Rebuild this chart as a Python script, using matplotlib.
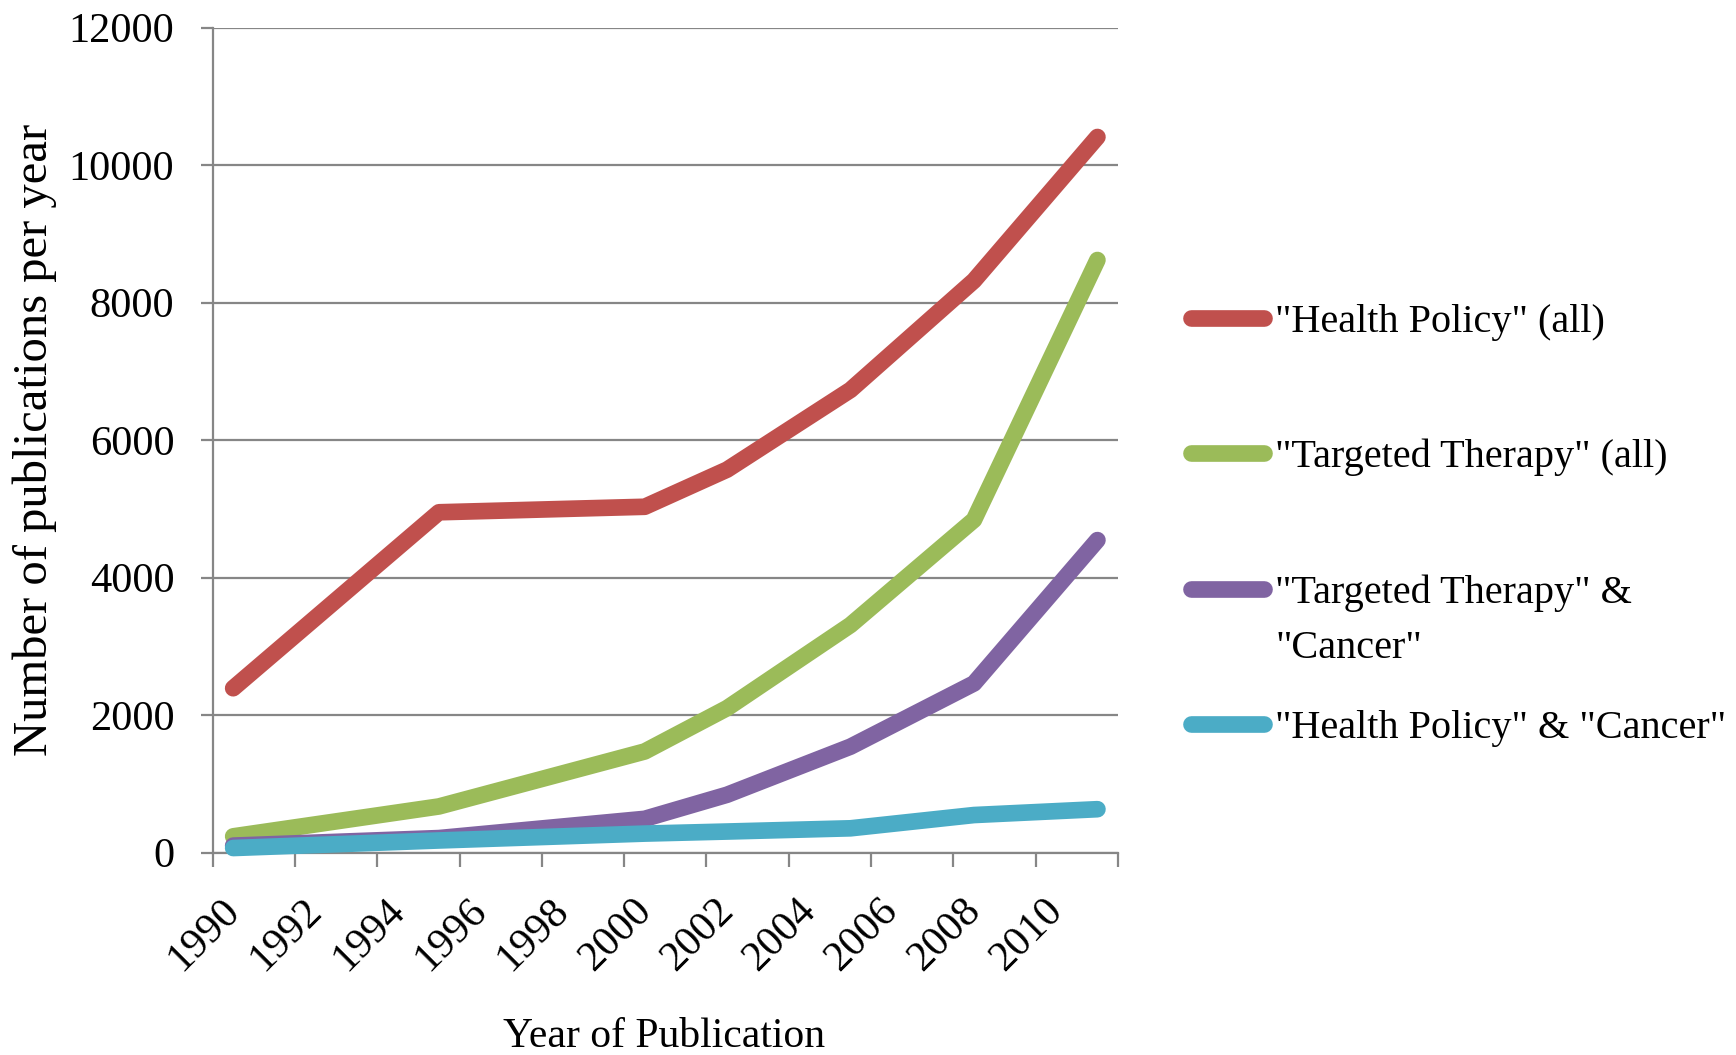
import matplotlib
matplotlib.use("Agg")
import matplotlib.pyplot as plt
import matplotlib.transforms as mtransforms
from matplotlib.lines import Line2D

# data
years = [1990, 1995, 2000, 2002, 2005, 2008, 2011]
health_policy_all = [2390, 4950, 5030, 5570, 6730, 8320, 10410]
targeted_therapy_all = [235, 670, 1470, 2100, 3310, 4840, 8620]
targeted_therapy_cancer = [100, 210, 490, 840, 1540, 2460, 4545]
health_policy_cancer = [65, 175, 275, 305, 352, 545, 630]

series_labels = ['"Health Policy" (all)', '"Targeted Therapy" (all)',
                 '"Targeted Therapy" &\n"Cancer"', '"Health Policy" & "Cancer"']
series_colors = ['#C0504D', '#9BBB59', '#8064A2', '#4BACC6']
first_year = 1990
last_year = 2011
tick_years = list(range(1990, 2011, 2))
y_ticks = [0, 2000, 4000, 6000, 8000, 10000, 12000]

W, H = 1736, 1055
FONT = 'Liberation Serif'
GRID = '#868686'
LW = 12

plt.rcParams['font.family'] = FONT

fig = plt.figure(figsize=(W / 100, H / 100), dpi=100)
ax = fig.add_axes([212.6 / W, 1 - 852.5 / H, (1118 - 212.6) / W, (852.5 - 27.7) / H])

# categories sit between tick marks, like an Excel category axis
def pos(y):
    return y - first_year + 0.5

xs = [pos(y) for y in years]
all_series = [health_policy_all, targeted_therapy_all, targeted_therapy_cancer, health_policy_cancer]
for vals, col in zip(all_series, series_colors):
    ax.plot(xs, vals, color=col, lw=LW, solid_capstyle='round', solid_joinstyle='round',
            zorder=3, clip_on=False)

ax.set_xlim(0, last_year - first_year + 1)
ax.set_ylim(0, 12000)

ax.set_yticks(y_ticks)
ax.set_yticklabels([str(v) for v in y_ticks], fontsize=30.5)
ax.yaxis.grid(True, color=GRID, lw=1.6)
ax.set_axisbelow(True)

ax.set_xticks(list(range(0, last_year - first_year + 2, 2)))
ax.set_xticklabels([])
ax.set_xticks([pos(y) for y in tick_years], minor=True)
ax.set_xticklabels([str(y) for y in tick_years], minor=True, fontsize=30.5)
ax.tick_params(axis='x', which='minor', length=0, pad=28)
ax.tick_params(axis='x', which='major', length=10, width=1.6, color=GRID)
ax.tick_params(axis='y', length=8.6, width=1.6, color=GRID, pad=19)
offset = mtransforms.ScaledTranslation(-13 / 100, 0, fig.dpi_scale_trans)
for lab in ax.get_xticklabels(minor=True):
    lab.set_rotation(45)
    lab.set_ha('right')
    lab.set_va('top')
    lab.set_rotation_mode('anchor')
    lab.set_transform(lab.get_transform() + offset)

for s in ['top', 'right']:
    ax.spines[s].set_visible(False)
for s in ['left', 'bottom']:
    ax.spines[s].set_color(GRID)
    ax.spines[s].set_linewidth(1.6)

fig.text(664 / W, 1 - 1047 / H, 'Year of Publication', fontsize=30, ha='center', va='baseline')
fig.text(57 / W, 1 - 440 / H, 'Number of publications per year', fontsize=35,
         rotation=90, ha='right', va='center')

# legend drawn by hand to match the layout
handle_y = [318, 453, 589, 724]
for lab, col, hy in zip(series_labels, series_colors, handle_y):
    fig.add_artist(Line2D([1191 / W, 1264 / W], [1 - hy / H, 1 - hy / H], color=col, lw=LW,
                          solid_capstyle='round', transform=fig.transFigure))
    for k, line in enumerate(lab.split('\n')):
        fig.text(1275 / W, 1 - (hy + 14 + 55 * k) / H, line, fontsize=29, ha='left', va='baseline')

fig.savefig('out.png', dpi=100)
